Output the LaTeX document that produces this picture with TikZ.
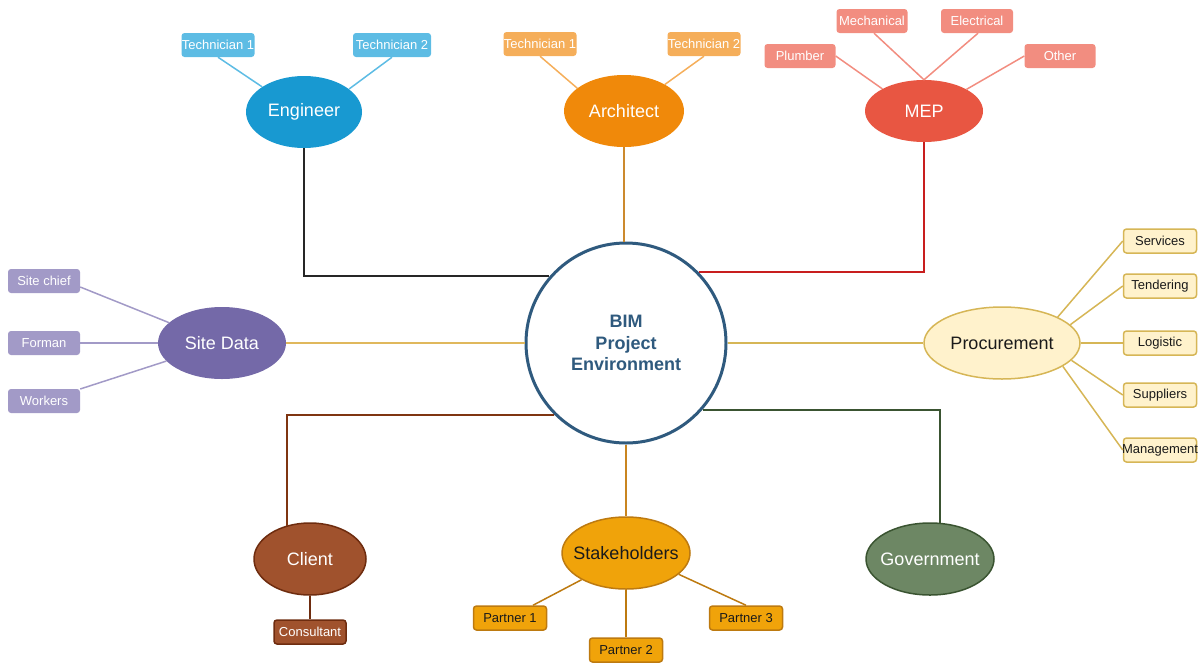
\documentclass[tikz,border=0pt]{standalone}
\usepackage{fontspec}
\setmainfont{Liberation Sans}
\usetikzlibrary{shapes.geometric}

\definecolor{bimblue}{HTML}{2F5A7E}
\definecolor{engfill}{HTML}{1899D1}
\definecolor{engsub}{HTML}{5DBCE4}
\definecolor{archfill}{HTML}{F0890A}
\definecolor{archsub}{HTML}{F5AE5A}
\definecolor{mepfill}{HTML}{E85642}
\definecolor{mepsub}{HTML}{F28D80}
\definecolor{sitefill}{HTML}{7469A8}
\definecolor{sitesub}{HTML}{A29AC7}
\definecolor{procfill}{HTML}{FFF2CC}
\definecolor{procline}{HTML}{D6B656}
\definecolor{clientfill}{HTML}{A0522D}
\definecolor{clientline}{HTML}{6E2C0F}
\definecolor{stakefill}{HTML}{F0A30A}
\definecolor{stakeline}{HTML}{BD7A10}
\definecolor{govfill}{HTML}{6D8764}
\definecolor{govline}{HTML}{3A5431}
\definecolor{goldline}{HTML}{E0B85C}
\definecolor{archline}{HTML}{CC8A2E}
\definecolor{mepline}{HTML}{C81E1E}
\definecolor{engline}{HTML}{262626}
\definecolor{clientconn}{HTML}{7F3511}
\definecolor{stakeconn}{HTML}{C98520}
\definecolor{darktext}{HTML}{1A1A1A}

\newcommand{\topiclabel}[1]{\makebox[0pt]{#1}}

\tikzset{
  topic/.style={ellipse, inner sep=0pt, minimum width=#1, minimum height=72,
    font=\fontsize{18}{21}\selectfont, text=white},
  leaf/.style={rectangle, rounded corners=3, inner sep=0pt, minimum width=73,
    minimum height=24, font=\fontsize{13}{15}\selectfont, text=white},
  subline/.style={line width=1.5pt},
  mainline/.style={line width=2pt},
}

\begin{document}
\begin{tikzpicture}[x=1pt, y=-1pt]
\useasboundingbox (0,0) rectangle (1198,664);

% hub
\node[circle, minimum size=200, inner sep=0pt, draw=bimblue, line width=3pt,
      fill=white, text=bimblue, align=center,
      font=\bfseries\fontsize{18}{21.5}\selectfont] (bim) at (626,343)
      {BIM\\Project\\Environment};

% Engineer branch
\node[topic=116, fill=engfill] (eng) at (304,112) {\topiclabel{Engineer}};
\node[leaf, fill=engsub] (etech1) at (218,45) {Technician 1};
\node[leaf, fill=engsub, minimum width=78] (etech2) at (392,45) {Technician 2};
\draw[subline, engsub] (etech1.south) -- (eng.149);
\draw[subline, engsub] (etech2.south) -- (eng.27);

% Architect branch
\node[topic=120, fill=archfill] (arch) at (624,111) {\topiclabel{Architect}};
\node[leaf, fill=archsub] (atech1) at (540,44) {\makebox[73pt]{Technician 1}};
\node[leaf, fill=archsub] (atech2) at (704,44) {\makebox[73pt]{Technician 2}};
\draw[subline, archsub] (atech1.south) -- (arch.154);
\draw[subline, archsub] (atech2.south) -- (arch.33);

% MEP branch
\node[topic=118, minimum height=62, fill=mepfill] (mep) at (924,111) {\topiclabel{MEP}};
\node[leaf, fill=mepsub, minimum width=71] (mech) at (872,21) {Mechanical};
\node[leaf, fill=mepsub, minimum width=72] (elec) at (977,21) {Electrical};
\node[leaf, fill=mepsub, minimum width=71] (plumb) at (800,56) {Plumber};
\node[leaf, fill=mepsub, minimum width=71] (other) at (1060,56) {Other};
\draw[subline, mepsub] ([xshift=2]mech.south) -- (mep.north);
\draw[subline, mepsub] ([xshift=1]elec.south) -- (mep.north);
\draw[subline, mepsub] (plumb.east) -- (mep.152);
\draw[subline, mepsub] (other.west) -- (mep.27);

% Site Data branch
\node[topic=128, fill=sitefill] (site) at (222,343) {\topiclabel{Site Data}};
\node[leaf, fill=sitesub, minimum width=72] (chief) at (44,281) {Site chief};
\node[leaf, fill=sitesub, minimum width=72] (forman) at (44,343) {Forman};
\node[leaf, fill=sitesub, minimum width=72] (workers) at (44,401) {Workers};
\draw[subline, sitesub] ([yshift=-6]chief.east) -- (site.159);
\draw[subline, sitesub] (forman.east) -- (site.west);
\draw[subline, sitesub] ([yshift=12]workers.east) -- (site.198);

% Procurement branch
\node[topic=156, fill=procfill, draw=procline, line width=1.5pt, text=darktext] (proc) at (1002,343) {\topiclabel{Procurement}};
\node[leaf, fill=procfill, draw=procline, line width=1.5pt, text=darktext] (serv) at (1160,241) {Services};
\node[leaf, fill=procfill, draw=procline, line width=1.5pt, text=darktext] (tend) at (1160,286) {Tendering};
\node[leaf, fill=procfill, draw=procline, line width=1.5pt, text=darktext] (logi) at (1160,343) {Logistic};
\node[leaf, fill=procfill, draw=procline, line width=1.5pt, text=darktext] (supp) at (1160,395) {Suppliers};
\node[leaf, fill=procfill, draw=procline, line width=1.5pt, text=darktext] (mgmt) at (1160,450) {\makebox[73pt]{Management}};
\draw[subline, procline] (serv.west) -- (proc.25);
\draw[subline, procline] (tend.west) -- (proc.15);
\draw[subline, procline] (logi.west) -- (proc.east);
\draw[subline, procline] (supp.west) -- (proc.-14);
\draw[subline, procline] (mgmt.west) -- (proc.-21);

% Client branch
\node[topic=112, fill=clientfill, draw=clientline, line width=1.5pt] (client) at (310,559) {\topiclabel{Client}};
\node[leaf, fill=clientfill, draw=clientline, line width=1.5pt, minimum width=72] (cons) at (310,632) {Consultant};
\draw[subline, clientline] (client.south) -- (cons.north);

% Stakeholders branch
\node[topic=128, fill=stakefill, draw=stakeline, line width=1.5pt, text=darktext] (stake) at (626,553) {\topiclabel{Stakeholders}};
\node[leaf, fill=stakefill, draw=stakeline, line width=1.5pt, text=darktext] (p1) at (510,618) {Partner 1};
\node[leaf, fill=stakefill, draw=stakeline, line width=1.5pt, text=darktext] (p2) at (626,650) {Partner 2};
\node[leaf, fill=stakefill, draw=stakeline, line width=1.5pt, text=darktext] (p3) at (746,618) {Partner 3};
\draw[subline, stakeline] ([xshift=23]p1.north) -- (stake.211);
\draw[subline, stakeline] (p2.north) -- (stake.south);
\draw[subline, stakeline] (p3.north) -- (stake.-22);

% Government branch
\node[topic=128, fill=govfill, draw=govline, line width=1.5pt] (gov) at (930,559) {\topiclabel{Government}};

% hub connectors
\draw[mainline, engline] (eng.south) |- (bim.139);
\draw[mainline, archline] (arch.south) -- (arch.south |- bim.north);
\draw[mainline, mepline] (mep.south) |- (bim.44);
\draw[mainline, goldline] (site.east) -- (bim.west);
\draw[mainline, procline] (bim.east) -- (proc.west);
\draw[mainline, clientconn] (client.125) |- (bim.south west);
\draw[mainline, stakeconn] (bim.south) -- (stake.north);
\draw[mainline, govline] (bim.-41) -| (gov.74);
\end{tikzpicture}
\end{document}
